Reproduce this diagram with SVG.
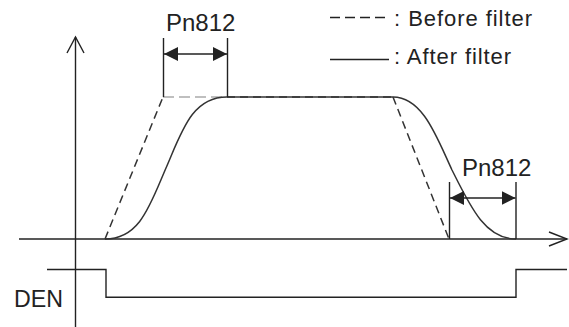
<svg xmlns="http://www.w3.org/2000/svg" width="569" height="327" viewBox="0 0 569 327">
<style>
.ln{fill:none;stroke:#222;stroke-width:1.4}
.cv{fill:none;stroke:#333;stroke-width:1.5}
.ds{fill:none;stroke:#333;stroke-width:1.5;stroke-dasharray:8,5}
.dp{fill:none;stroke:#aaa;stroke-width:1.6;stroke-dasharray:11,5}
.tx{font-family:"Liberation Sans",Arial,sans-serif;fill:#222}
</style>
<defs>
<marker id="ah" viewBox="0 0 14 14" refX="14" refY="7" markerWidth="14" markerHeight="14" markerUnits="userSpaceOnUse" orient="auto-start-reverse">
<path d="M0,0 L14,7 L0,14 z" fill="#222"/>
</marker>
</defs>
<g id="axes">
<path class="ln" d="M75.5,327 V37"/>
<path class="ln" d="M67,53 L75.5,37 L84,53"/>
<path class="ln" d="M19,239 H567"/>
<path class="ln" d="M549,232 L567,239 L549,246"/>
</g>
<g id="legend">
<path d="M330,17.5 H389" fill="none" stroke="#222" stroke-width="1.5" stroke-dasharray="10,5"/>
<text class="tx" x="394" y="26" font-size="22" textLength="138" lengthAdjust="spacing">: Before filter</text>
<path class="ln" d="M330,59.5 H389"/>
<text class="tx" x="394" y="64" font-size="22" textLength="117" lengthAdjust="spacing">: After filter</text>
</g>
<g id="before-filter">
<path class="ds" d="M105,239 L163,97"/>
<path class="dp" d="M163,97 H227"/>
<path class="ds" d="M227,97 H393"/>
<path class="ds" d="M393,97 L449,239"/>
</g>
<g id="after-filter">
<path class="cv" d="M105,239 C140,239 150,205 166,168 C182,131 192,97 227,97 H393 C423,97 437,138 452,170 C470,206 485,239 516,239"/>
</g>
<g id="pn812-top">
<path class="ln" d="M163.5,38 V97 M227.5,38 V97"/>
<path class="ln" d="M164,54 H227" marker-start="url(#ah)" marker-end="url(#ah)"/>
<text class="tx" x="166" y="31" font-size="24">Pn812</text>
</g>
<g id="pn812-bottom">
<path class="ln" d="M449.5,182 V239 M516,182 V239"/>
<path class="ln" d="M450,198 H515.5" marker-start="url(#ah)" marker-end="url(#ah)"/>
<text class="tx" x="462" y="176" font-size="24">Pn812</text>
</g>
<g id="den">
<path class="ln" d="M47,269.5 H106 V297.3 H516 V269.5 H567"/>
<text class="tx" x="14" y="306.5" font-size="24" textLength="49" lengthAdjust="spacingAndGlyphs">DEN</text>
</g>
</svg>
